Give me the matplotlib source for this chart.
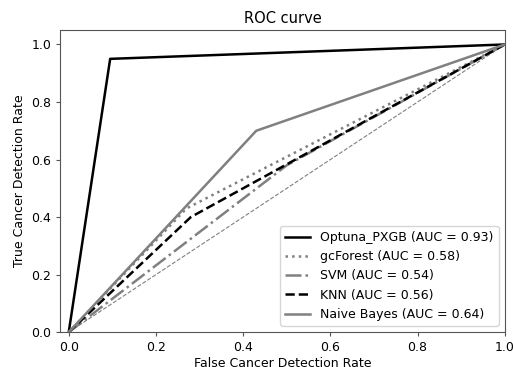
import matplotlib
matplotlib.use("Agg")
import matplotlib.pyplot as plt

# ROC points (fpr, tpr)
models = ["Optuna_PXGB", "gcForest", "SVM", "KNN", "Naive Bayes"]
aucs = [0.93, 0.58, 0.54, 0.56, 0.64]
fpr_list = [[0.0, 0.095, 1.0],
            [0.0, 0.27, 1.0],
            [0.0, 0.50, 1.0],
            [0.0, 0.28, 1.0],
            [0.0, 0.43, 1.0]]
tpr_list = [[0.0, 0.95, 1.0],
            [0.0, 0.43, 1.0],
            [0.0, 0.58, 1.0],
            [0.0, 0.40, 1.0],
            [0.0, 0.70, 1.0]]

colors = ["black", "gray", "gray", "black", "gray"]
styles = ["-", ":", "-.", "--", "-"]

plt.rcParams["font.size"] = 9

fig = plt.figure(figsize=(5.13, 3.67), dpi=100)
ax = fig.add_axes([0.117, 0.095, 0.867, 0.823])

ax.plot([0, 1], [0, 1], color="gray", linestyle="--", lw=0.8)
for name, auc, fpr, tpr, c, ls in zip(models, aucs, fpr_list, tpr_list, colors, styles):
    ax.plot(fpr, tpr, color=c, linestyle=ls, lw=1.8, label=f"{name} (AUC = {auc:.2f})")

ax.set_xlim(-0.02, 1.0)
ax.set_ylim(0.0, 1.05)
ax.set_xlabel("False Cancer Detection Rate", labelpad=2)
ax.set_ylabel("True Cancer Detection Rate")
ax.set_title("ROC curve", fontsize=10.5, pad=5)
for sp in ax.spines.values():
    sp.set_color("#555555")
ax.tick_params(color="#555555", length=3.2, pad=3)
ax.legend(loc="lower right")

fig.savefig("out.png", dpi=100)
